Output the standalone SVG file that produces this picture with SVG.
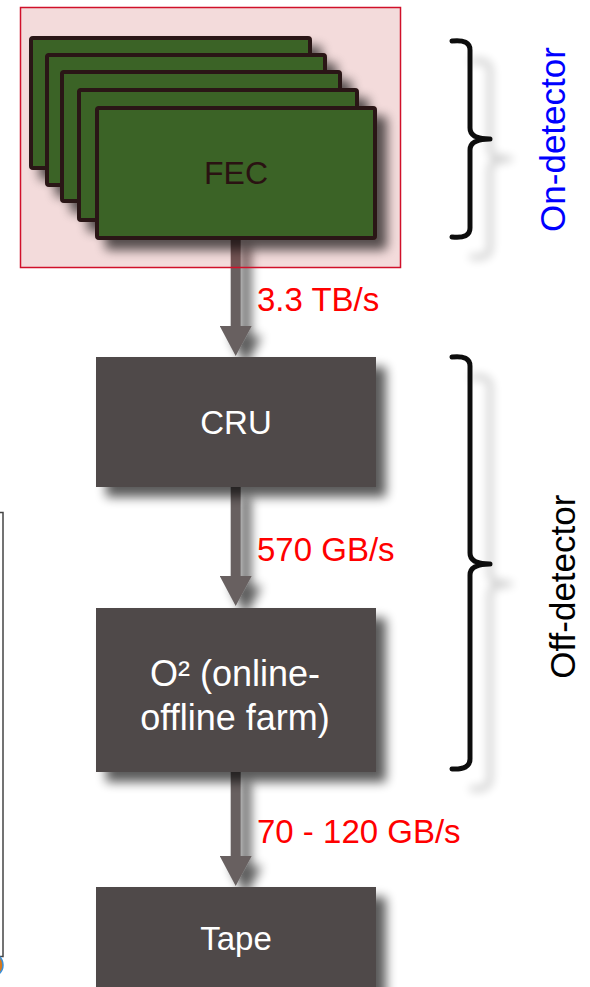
<svg xmlns="http://www.w3.org/2000/svg" width="590" height="987" viewBox="0 0 590 987">
<defs>
<style>
.card{fill:#3b6428;stroke:#2a1414;stroke-width:4;}
.box{fill:#504a48;}
.lbl{font-family:"Liberation Sans",Arial,sans-serif;font-size:33px;fill:#ff0000;}
.btxt{font-family:"Liberation Sans",Arial,sans-serif;font-size:33px;fill:#ffffff;text-anchor:middle;}
.side{font-family:"Liberation Sans",Arial,sans-serif;font-size:35px;text-anchor:middle;}
.brace{fill:none;stroke:#111111;stroke-width:5;stroke-linecap:round;stroke-linejoin:round;}
.conn{stroke:#676161;stroke-width:10;fill:none;}
</style>
<filter id="sh" filterUnits="userSpaceOnUse" x="-50" y="-50" width="700" height="1100">
<feGaussianBlur in="SourceAlpha" stdDeviation="5.5"/>
<feOffset dx="10" dy="10"/>
<feComponentTransfer><feFuncA type="linear" slope="0.65"/></feComponentTransfer>
<feMerge><feMergeNode/><feMergeNode in="SourceGraphic"/></feMerge>
</filter>
<filter id="bsh" filterUnits="userSpaceOnUse" x="-50" y="-50" width="700" height="1100">
<feGaussianBlur in="SourceAlpha" stdDeviation="5"/>
<feOffset dx="20" dy="20"/>
<feComponentTransfer><feFuncA type="linear" slope="0.22"/></feComponentTransfer>
<feMerge><feMergeNode/><feMergeNode in="SourceGraphic"/></feMerge>
</filter>
<marker id="arr" viewBox="0 0 30 32" markerWidth="30" markerHeight="32" refX="1" refY="16" orient="auto" markerUnits="userSpaceOnUse">
<path d="M0,0 L30,16 L0,32 Z" fill="#676161"/>
</marker>
</defs>
<rect width="590" height="987" fill="#ffffff"/>

<g id="connectors" filter="url(#sh)">
<line class="conn" x1="235.7" y1="236" x2="235.7" y2="327" marker-end="url(#arr)"/>
<line class="conn" x1="235.7" y1="487" x2="235.7" y2="577" marker-end="url(#arr)"/>
<line class="conn" x1="235.7" y1="771" x2="235.7" y2="857" marker-end="url(#arr)"/>
</g>

<g id="on-detector-region">
<rect x="20.5" y="7.5" width="380" height="260" fill="rgba(175,15,15,0.15)" stroke="#d0102a" stroke-width="1.5"/>
</g>

<g id="fec" filter="url(#sh)">
<rect class="card" x="31" y="38" width="279" height="130" rx="2"/>
<rect class="card" x="47" y="55" width="278" height="130" rx="2"/>
<rect class="card" x="62" y="72" width="278" height="129" rx="2"/>
<rect class="card" x="79" y="90" width="278" height="130" rx="2"/>
<rect class="card" x="97" y="108" width="278" height="130" rx="2"/>
</g>
<text x="236" y="184" font-family="Liberation Sans, Arial, sans-serif" font-size="32" fill="#2a1212" text-anchor="middle">FEC</text>

<g id="cru">
<rect class="box" x="96" y="357" width="280" height="130" filter="url(#sh)"/>
<text class="btxt" x="236" y="434">CRU</text>
</g>

<g id="o2">
<rect class="box" x="96" y="608" width="280" height="164" filter="url(#sh)"/>
<text class="btxt" x="235" y="686" style="font-size:36px">O² (online-</text>
<text class="btxt" x="235" y="730" style="font-size:36px">offline farm)</text>
</g>

<g id="tape">
<rect class="box" x="96" y="887" width="280" height="120" filter="url(#sh)"/>
<text class="btxt" x="236" y="950">Tape</text>
</g>

<g id="rate-labels">
<text class="lbl" x="257" y="311">3.3 TB/s</text>
<text class="lbl" x="257" y="561">570 GB/s</text>
<text class="lbl" x="257" y="843">70 - 120 GB/s</text>
</g>

<g id="on-detector-brace">
<path class="brace" filter="url(#bsh)" d="M452,41 Q470,39 470,50 V128 Q470,139 490,139 Q470,139 470,150 V228 Q470,239 452,237"/>
<text class="side" transform="translate(565,139.5) rotate(-90)" fill="#0000ff">On-detector</text>
</g>

<g id="off-detector-brace">
<path class="brace" filter="url(#bsh)" d="M452,357 Q470,355 470,366 V553 Q470,564 490,564 Q470,564 470,575 V759 Q470,770 452,769"/>
<text class="side" transform="translate(575,586.7) rotate(-90)" fill="#000000">Off-detector</text>
</g>

<g id="left-edge">
<rect x="-20" y="512.5" width="23" height="444" fill="none" stroke="#444444" stroke-width="1.5"/>
<circle cx="-9" cy="965" r="12" fill="#d9781a" stroke="#3a8fd8" stroke-width="1.5"/>
</g>
</svg>
